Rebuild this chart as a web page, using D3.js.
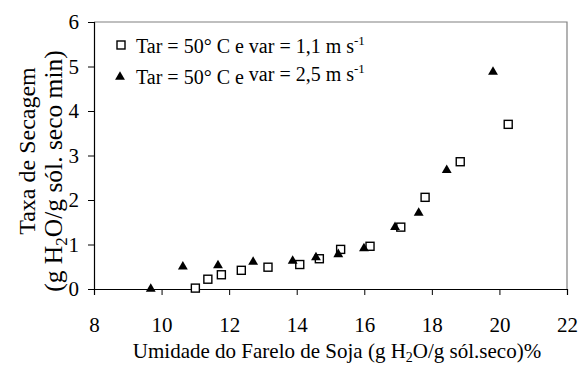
<!DOCTYPE html>
<html lang="pt">
<head>
    <meta charset="UTF-8">
    <title>taxa de secagem</title>
    <script src="https://d3js.org/d3.v7.min.js"></script>
    <style>
        body{
            margin: 0;
            background: #ffffff;
        }
    </style>
</head>
<body>

<svg width="580" height="365" id="main"></svg>

<script>
    // Tar = 50 C e var = 1,1 m/s
    let umidade_11 = [11.0, 11.37, 11.77, 12.36, 13.15, 14.09, 14.67, 15.3, 16.17, 17.08, 17.8, 18.84, 20.26]
    let taxa_11 = [0.02, 0.22, 0.32, 0.42, 0.49, 0.55, 0.68, 0.89, 0.96, 1.39, 2.06, 2.86, 3.70]
    // Tar = 50 C e var = 2,5 m/s
    let umidade_25 = [9.68, 10.63, 11.67, 12.71, 13.88, 14.57, 15.23, 15.99, 16.91, 17.61, 18.44, 19.81]
    let taxa_25 = [0.0, 0.50, 0.53, 0.61, 0.63, 0.71, 0.78, 0.91, 1.39, 1.71, 2.67, 4.88]

    let x_ticks = [8, 10, 12, 14, 16, 18, 20, 22]
    let y_ticks = [0, 1, 2, 3, 4, 5, 6]

    let svg = d3.select("#main")
    let mLeft = 94, mRight = 567, mTop = 22, mBottom = 289

    let x = d3.scaleLinear().domain([8, 22]).range([mLeft, mRight])
    let y = d3.scaleLinear().domain([0, 6]).range([mBottom, mTop])

    // frame (top and right in grey)
    svg.append("path")
        .attr("d", `M${mLeft},${mTop}H${mRight}V${mBottom}`)
        .attr("fill", "none")
        .attr("stroke", "#808080")
        .attr("stroke-width", 1.2)

    // axes
    let xAxis = svg.append("g")
        .attr("transform", `translate(0,${mBottom})`)
        .call(d3.axisBottom(x).tickValues(x_ticks).tickSize(6).tickFormat(d3.format("d")))
    let yAxis = svg.append("g")
        .attr("transform", `translate(${mLeft},0)`)
        .call(d3.axisLeft(y).tickValues(y_ticks).tickSize(6).tickFormat(d3.format("d")))

    xAxis.select(".domain").attr("stroke", "#000").attr("stroke-width", 1.2)
    yAxis.select(".domain").attr("stroke", "#000").attr("stroke-width", 1.2)
    xAxis.selectAll(".tick line").attr("stroke", "#000")
    yAxis.selectAll(".tick line").attr("stroke", "#000")
    xAxis.selectAll("text")
        .attr("font-size", 21)
        .attr("y", 28)
    yAxis.selectAll("text")
        .attr("font-size", 21)
        .attr("x", -15)

    // squares
    svg.append("g")
        .selectAll("rect")
        .data(umidade_11)
        .join("rect")
        .attr("x", (d) => x(d) - 4)
        .attr("y", (d, i) => y(taxa_11[i]) - 4)
        .attr("width", 8)
        .attr("height", 8)
        .attr("fill", "#fff")
        .attr("stroke", "#000")
        .attr("stroke-width", 1.4)

    // triangles
    let tri = d3.symbol().type(d3.symbolTriangle).size(42)
    svg.append("g")
        .selectAll("path")
        .data(umidade_25)
        .join("path")
        .attr("d", tri)
        .attr("transform", (d, i) => `translate(${x(d)},${y(taxa_25[i])})`)
        .attr("fill", "#000")

    // legend
    let leg = svg.append("g")
    leg.append("rect")
        .attr("x", 117).attr("y", 41)
        .attr("width", 8).attr("height", 8)
        .attr("fill", "#fff")
        .attr("stroke", "#000")
        .attr("stroke-width", 1.4)
    leg.append("path")
        .attr("d", tri)
        .attr("transform", "translate(120,77)")
        .attr("fill", "#000")

    let l1 = leg.append("text").attr("x", 136).attr("y", 53).attr("font-size", 20)
    l1.append("tspan").text("Tar = 50° C e var = 1,1 m s")
    l1.append("tspan").attr("font-size", 13).attr("dy", -8).text("-1")

    let l2 = leg.append("text").attr("x", 136).attr("y", 84).attr("font-size", 20)
    l2.append("tspan").text("Tar = 50° C e ")
    l2.append("tspan").attr("dy", -3).text("var = 2,5 m s")
    l2.append("tspan").attr("font-size", 13).attr("dy", -8).text("-1")

    // x title
    let xt = svg.append("text")
        .attr("x", 337)
        .attr("y", 358)
        .attr("text-anchor", "middle")
        .attr("font-size", 21)
    xt.append("tspan").text("Umidade do Farelo de Soja (g H")
    xt.append("tspan").attr("font-size", 14).attr("dy", 4).text("2")
    xt.append("tspan").attr("dy", -4).text("O/g sól.seco)%")

    // y title, two lines
    svg.append("text")
        .attr("transform", "translate(35,151) rotate(-90)")
        .attr("text-anchor", "middle")
        .attr("font-size", 24)
        .text("Taxa de Secagem")
    let yt = svg.append("text")
        .attr("transform", "translate(62,171) rotate(-90)")
        .attr("text-anchor", "middle")
        .attr("font-size", 25.5)
    yt.append("tspan").text("(g H")
    yt.append("tspan").attr("font-size", 17).attr("dy", 5).text("2")
    yt.append("tspan").attr("dy", -5).text("O/g sól. seco min)")

    // serif everywhere
    svg.selectAll("text")
        .style("font-family", "Liberation Serif")
        .style("fill", "#000")
</script>

</body>
</html>
